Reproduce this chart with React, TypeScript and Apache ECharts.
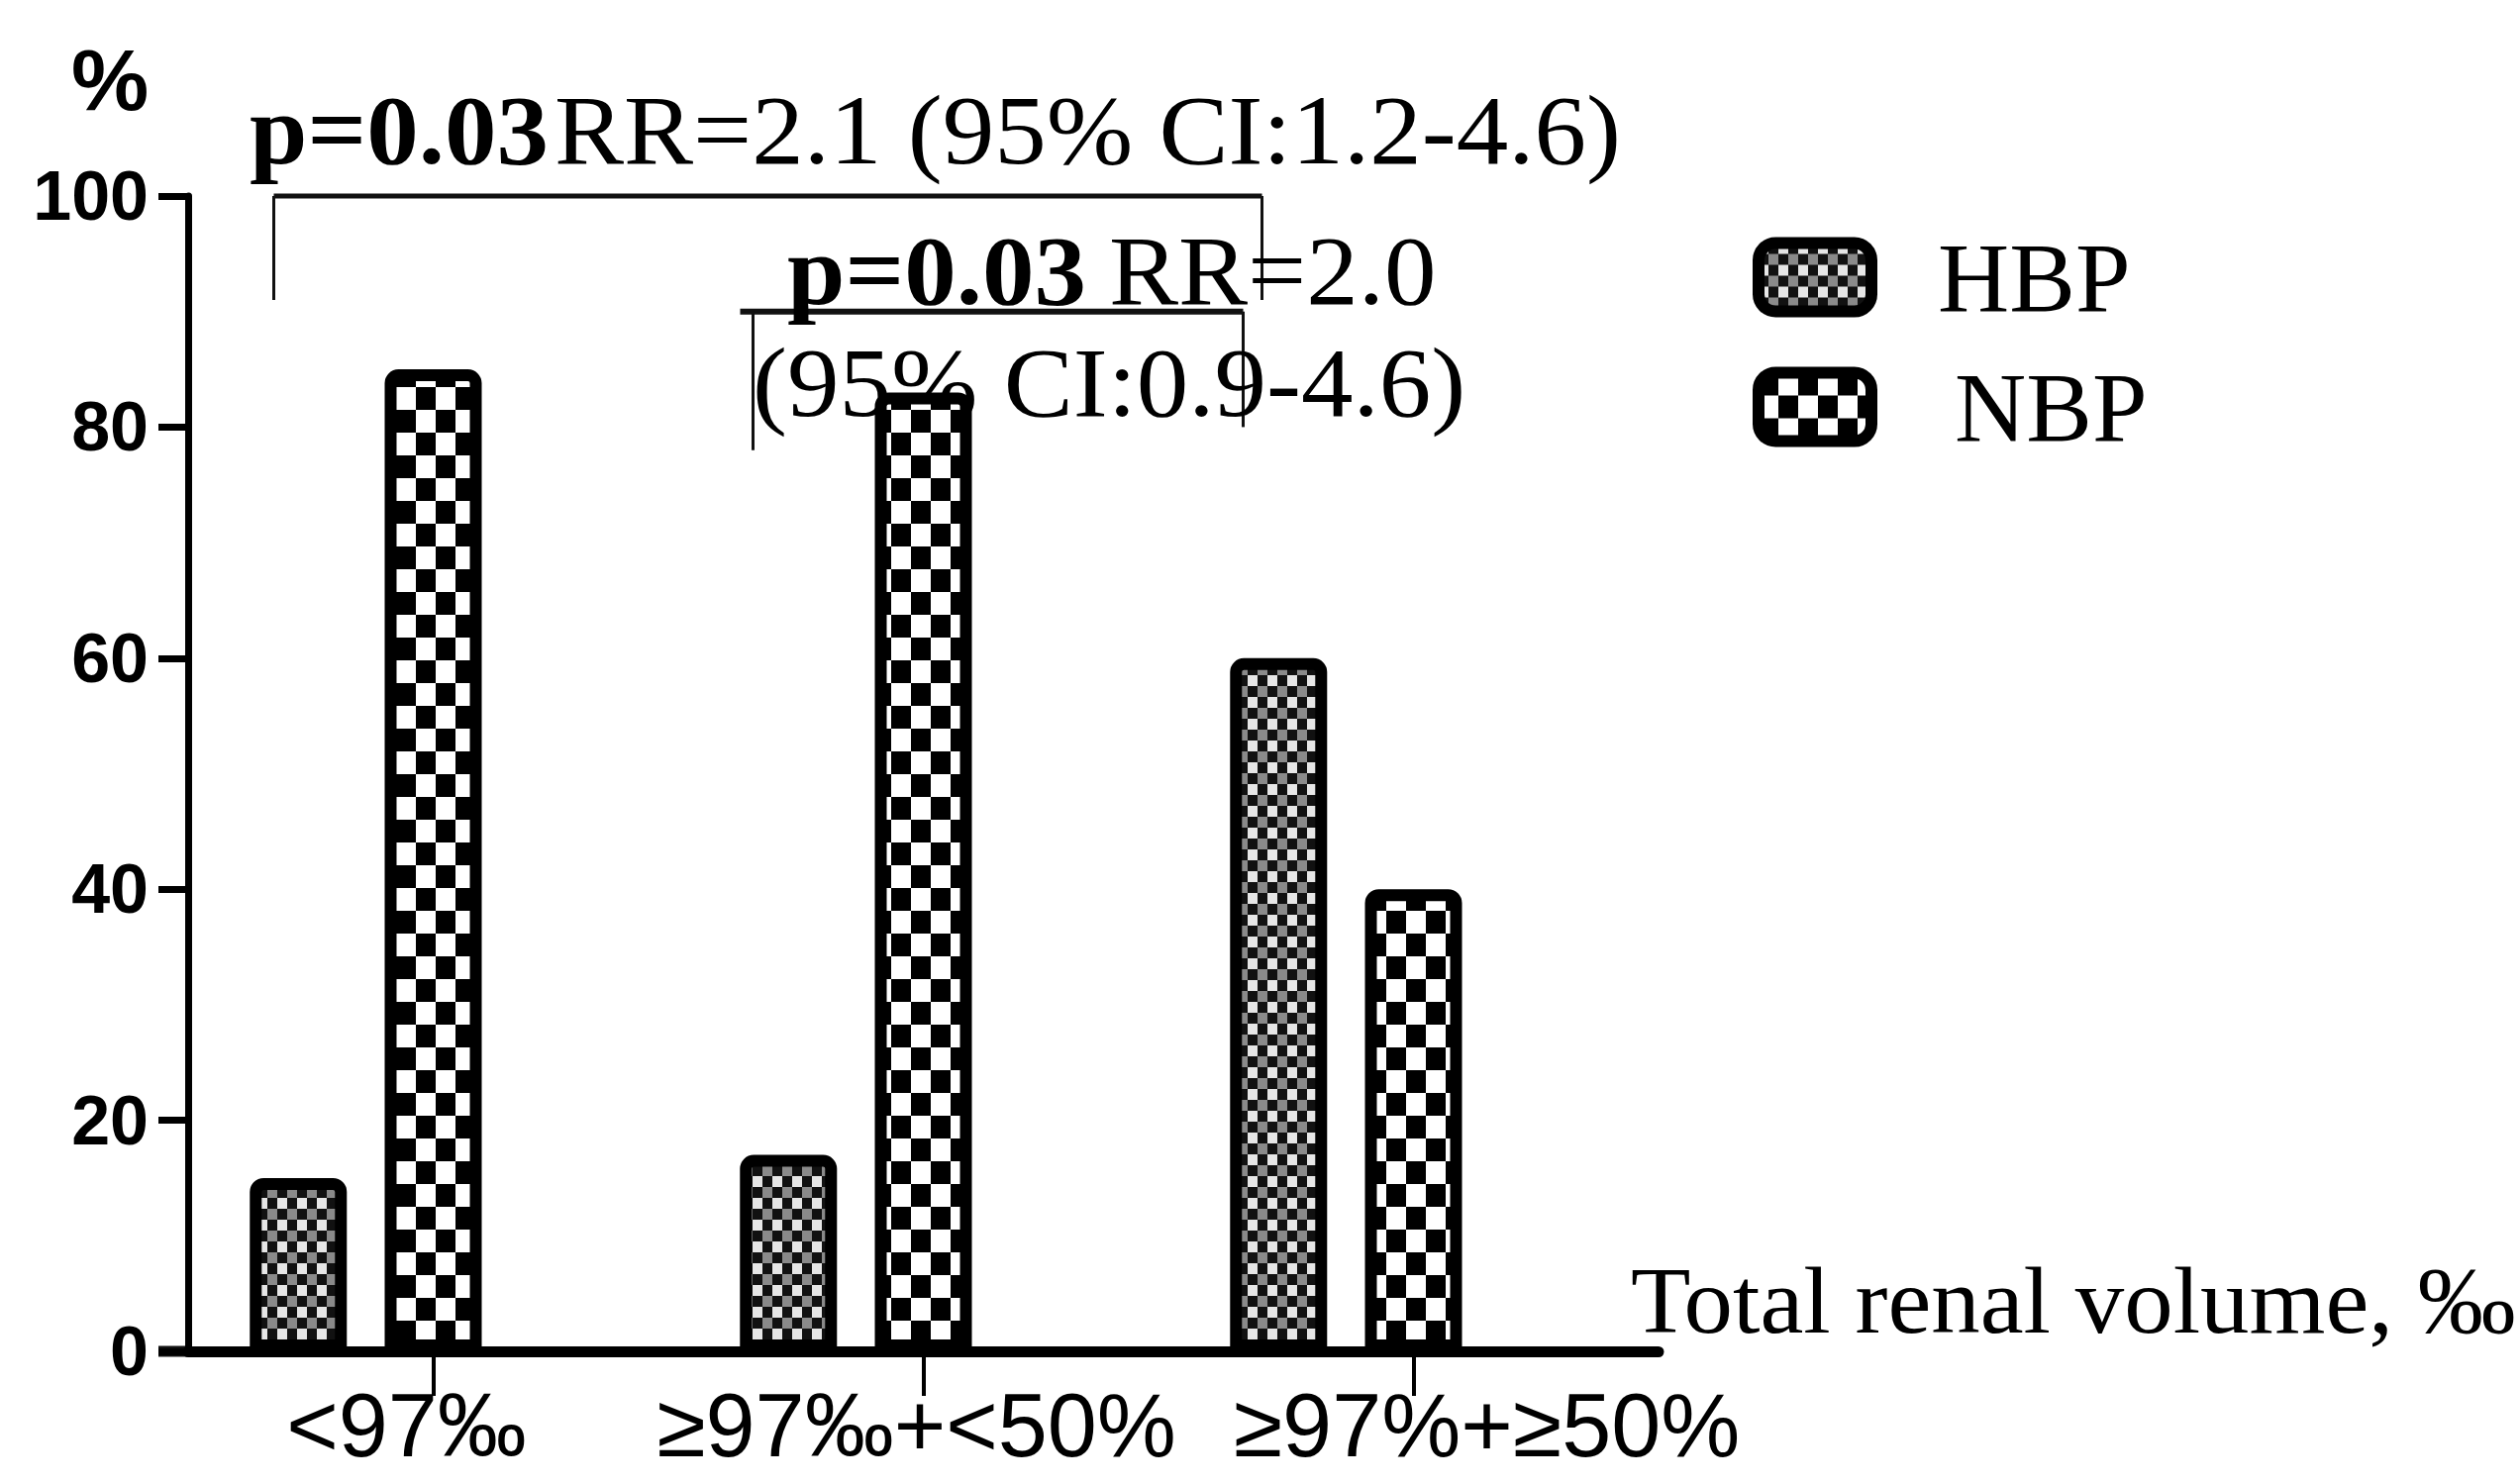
import React, { useEffect, useRef } from 'react';
import * as echarts from 'echarts';

const categories = ['<97‰', '≥97‰+<50%', '≥97%+≥50%'];
const hbpValues = [15, 17, 60];
const nbpValues = [85, 83, 40];
const yTicks = [0, 20, 40, 60, 80, 100];
const seriesNames = ['HBP', 'NBP'];
const xAxisTitle = 'Total renal volume, ‰';
const yAxisTitle = '%';
const ann1Bold = 'p=0.03';
const ann1Text = 'RR=2.1 (95% CI:1.2-4.6)';
const ann2Bold = 'p=0.03';
const ann2Text = 'RR=2.0';
const ann2Line2 = '(95% CI:0.9-4.6)';
// bracket levels (in % units)
const bracket1Levels = [100, 91, 91];
const bracket2Levels = [90, 78, 80];

const SERIF = "'Liberation Serif', 'Times New Roman', serif";
const SANS = "'Liberation Sans', Arial, sans-serif";

function makeTile(w: number, h: number, draw: (ctx: CanvasRenderingContext2D) => void) {
  const c = document.createElement('canvas');
  c.width = w;
  c.height = h;
  const ctx = c.getContext('2d')!;
  draw(ctx);
  return c.toDataURL();
}

export default function App() {
  const ref = useRef<HTMLDivElement>(null);
  useEffect(() => {
    if (!ref.current) return;
    const chart = echarts.init(ref.current, null, { renderer: 'svg' });

    const nbpTile = makeTile(40, 46, (ctx) => {
      ctx.fillStyle = '#fff';
      ctx.fillRect(0, 0, 40, 46);
      ctx.fillStyle = '#000';
      ctx.fillRect(0, 0, 20, 23);
      ctx.fillRect(20, 23, 20, 23);
    });
    const hbpTile = makeTile(20, 22, (ctx) => {
      ctx.fillStyle = '#e6e6e6';
      ctx.fillRect(0, 0, 10, 11);
      ctx.fillStyle = '#111';
      ctx.fillRect(10, 0, 10, 11);
      ctx.fillRect(0, 11, 10, 11);
      ctx.fillStyle = '#8a8a8a';
      ctx.fillRect(10, 11, 10, 11);
    });
    const nbpPattern: any = { image: nbpTile, repeat: 'repeat', imageWidth: 40, imageHeight: 46 };
    const hbpPattern: any = { image: hbpTile, repeat: 'repeat', imageWidth: 20, imageHeight: 22 };

    const barCommon = {
      type: 'bar',
      barWidth: 98,
      barGap: '39%',
    };

    chart.setOption({
      animation: false,
      backgroundColor: '#fff',
      grid: { left: 190, right: 870, top: 198, bottom: 134, containLabel: false, outerBoundsMode: 'none' },
      legend: {
        data: seriesNames,
        orient: 'vertical',
        left: 1770,
        top: 230,
        padding: 0,
        itemWidth: 114,
        itemHeight: 69,
        itemGap: 31,
        icon: 'roundRect',
        itemStyle: { borderWidth: 12, borderColor: '#000' },
        formatter: (name: string) => `{${name}|${name}}`,
        textStyle: {
          fontFamily: SERIF,
          fontSize: 100,
          color: '#000',
          rich: {
            HBP: { fontFamily: SERIF, fontSize: 100, color: '#000', padding: [0, 0, 0, 62] },
            NBP: { fontFamily: SERIF, fontSize: 100, color: '#000', padding: [0, 0, 0, 79] },
          },
        },
      },
      xAxis: {
        type: 'category',
        data: categories,
        axisLine: { show: true, lineStyle: { color: '#000', width: 11 } },
        axisTick: { show: true, alignWithLabel: true, length: 45, lineStyle: { color: '#000', width: 4 } },
        axisLabel: {
          interval: 0,
          hideOverlap: false,
          margin: 30,
          fontFamily: SANS,
          fontSize: 90,
          color: '#000',
          formatter: (v: string, i: number) => `{c${i}|${v}}`,
          rich: {
            c0: { fontFamily: SANS, fontSize: 90, color: '#000', padding: [0, 54, 0, 0] },
            c1: { fontFamily: SANS, fontSize: 90, color: '#000', padding: [0, 14, 0, 0] },
            c2: { fontFamily: SANS, fontSize: 90, color: '#000', padding: [0, 0, 0, 148] },
          },
        },
        splitLine: { show: false },
      },
      yAxis: {
        type: 'value',
        min: yTicks[0],
        max: yTicks[yTicks.length - 1],
        interval: yTicks[1] - yTicks[0],
        name: yAxisTitle,
        nameLocation: 'end',
        nameGap: 118,
        nameTextStyle: {
          fontFamily: SANS,
          fontSize: 88,
          fontWeight: 'bold',
          color: '#000',
          align: 'center',
          verticalAlign: 'middle',
          padding: [0, 158, 0, 0],
        },
        axisLine: { show: true, lineStyle: { color: '#000', width: 7 } },
        axisTick: { show: true, length: 30, lineStyle: { color: '#000', width: 7 } },
        axisLabel: { fontFamily: SANS, fontSize: 70, fontWeight: 'bold', color: '#000', margin: 40 },
        splitLine: { show: false },
      },
      series: [
        {
          ...barCommon,
          name: seriesNames[0],
          data: hbpValues,
          itemStyle: { color: hbpPattern, borderColor: '#000', borderWidth: 12, borderRadius: [8, 8, 0, 0] },
        },
        {
          ...barCommon,
          name: seriesNames[1],
          data: nbpValues,
          itemStyle: { color: nbpPattern, borderColor: '#000', borderWidth: 12, borderRadius: [8, 8, 0, 0] },
        },
        {
          ...barCommon,
          name: 'spacer',
          data: categories.map(() => null),
          silent: true,
          itemStyle: { color: 'transparent' },
        },
      ],
    });

    const cx = (i: number) => chart.convertToPixel({ xAxisIndex: 0 }, categories[i]) as number;
    const py = (v: number) => chart.convertToPixel({ yAxisIndex: 0 }, v) as number;

    const b1L = cx(0) - 161;
    const b1R = cx(2) - 153;
    const b2Start = cx(1) - 185;
    const b2L = cx(1) - 172;
    const b2R = cx(2) - 172;
    const axisX = 190;
    const axisEnd = 2545 - 870;

    const line = (x1: number, y1: number, x2: number, y2: number, w: number) => ({
      type: 'line',
      shape: { x1, y1, x2, y2 },
      style: { stroke: '#111', lineWidth: w },
      silent: true,
    });
    const text = (t: string, x: number, y: number, bold: boolean, size = 100, sx = 1.05) => ({
      type: 'text',
      x,
      y,
      scaleX: sx,
      silent: true,
      style: {
        text: t,
        fontFamily: SERIF,
        fontSize: size,
        fontWeight: bold ? 'bold' : 'normal',
        fill: '#000',
        align: 'left',
        textAlign: 'left',
        verticalAlign: 'middle',
        textVerticalAlign: 'middle',
      },
    });

    chart.setOption({
      graphic: [
        line(axisX - 30, py(0), axisX, py(0), 11),
        line(b1L, py(bracket1Levels[0]), b1R, py(bracket1Levels[0]), 5),
        line(b1L, py(bracket1Levels[0]), b1L, py(bracket1Levels[1]), 3),
        line(b1R, py(bracket1Levels[0]), b1R, py(bracket1Levels[2]), 3),
        line(b2Start, py(bracket2Levels[0]), b2R, py(bracket2Levels[0]), 6),
        line(b2L, py(bracket2Levels[0]), b2L, py(bracket2Levels[1]), 3),
        line(b2R, py(bracket2Levels[0]), b2R, py(bracket2Levels[2]), 3),
        text(ann1Bold, 252, 131, true),
        text(ann1Text, 560, 131, false),
        text(ann2Bold, 795, 273, true),
        text(ann2Text, 1120, 273, false),
        text(ann2Line2, 760, 386, false),
        text(xAxisTitle, axisEnd - 28, py(0) - 52, false, 96, 1.03),
      ],
    });

    return () => chart.dispose();
  }, []);

  return (
    <div
      ref={ref}
      style={{ position: 'fixed', left: 0, top: 0, width: 2545, height: 1499, background: '#fff' }}
    />
  );
}
